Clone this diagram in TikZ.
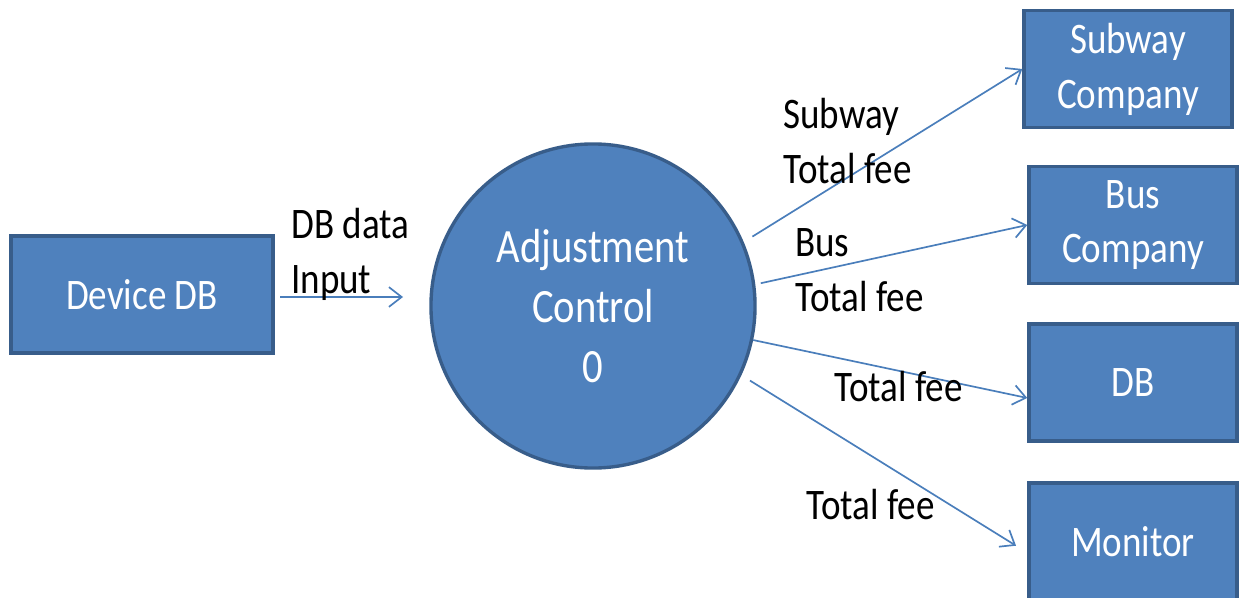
\documentclass[tikz,border=0pt]{standalone}
\usepackage{fontspec}
\setmainfont{Carlito}[FakeStretch=0.85]
\usetikzlibrary{arrows.meta}
\begin{document}
\begin{tikzpicture}[x=0.025cm, y=-0.025cm,
  kotak/.style={rectangle, fill=kotakbiru, draw=tepibiru, line width=2.4pt, text=white,
    minimum width=5.2cm, minimum height=2.925cm, inner sep=0pt, align=center,
    font=\fontsize{31}{39}\selectfont},
  panah/.style={draw=panahbiru, line width=1.2pt, -{Straight Barb[length=9pt,width=14pt]}},
  teks/.style={align=left, inner sep=0pt, font=\fontsize{31}{39}\selectfont}]
\definecolor{kotakbiru}{HTML}{4F81BD}
\definecolor{tepibiru}{HTML}{385D8A}
\definecolor{panahbiru}{HTML}{4A7EBB}
\useasboundingbox (0,0) rectangle (1239,598);
% kotak dan lingkaran
\node[kotak, minimum width=6.55cm] (perangkat) at (142,294.5) {Device DB};
\node[kotak, circle, minimum size=8.1cm, font=\fontsize{34}{42.7}\selectfont] (kontrol) at (593,306) {Adjustment\\Control\\0};
\node[kotak] (subway) at (1128,69) {Subway\\Company};
\node[kotak] (bus) at (1133,225) {Bus\\Company};
\node[kotak] (db) at (1133,382.5) {DB};
\node[kotak] (monitor) at (1133,541.5) {Monitor};
% panah
\coordinate (masuk) at (280,297);
\coordinate (masukujung) at (403,297);
\draw[panah] (masuk) -- (masukujung);
\draw[panah] ([xshift=7pt,yshift=2pt]kontrol.24) -- (subway.west);
\draw[panah] ([xshift=4pt]kontrol.8) -- (bus.west);
\draw[panah] (kontrol.-12) -- ([yshift=-11pt]db.west);
\draw[panah] ([xshift=7pt,yshift=-2pt]kontrol.-26) -- ([xshift=-8pt,yshift=-3pt]monitor.west);
% keterangan
\node[teks, anchor=west] (tdb) at (291,254) {DB data\\Input};
\node[teks, anchor=west] (tsubway) at (783,141) {Subway\\Total fee};
\node[teks, anchor=west] (tbus) at (795,270) {Bus\\Total fee};
\node[teks, anchor=base west] (tdbfee) at (834,401) {Total fee};
\node[teks, anchor=base west] (tmonitor) at (806,519) {Total fee};
\end{tikzpicture}
\end{document}
